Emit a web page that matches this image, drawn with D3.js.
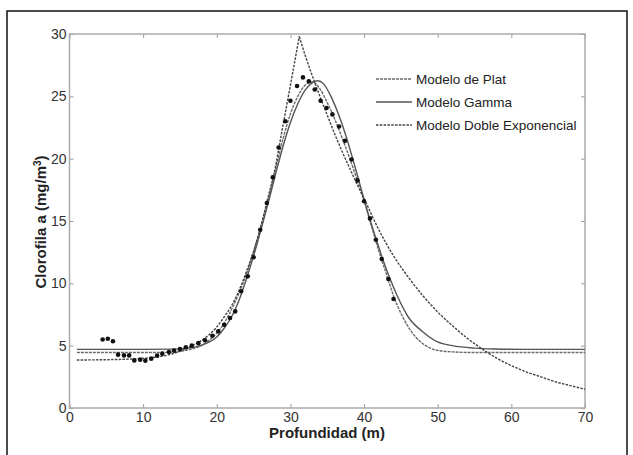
<!DOCTYPE html>
<html>
<head>
<meta charset="utf-8">
<script src="https://cdn.jsdelivr.net/npm/d3@7"></script>
<style>
  body { margin: 0; background: #fff; }
  svg { display: block; font-family: Arial, "Liberation Sans", sans-serif; }
  .tick text { fill: #333; font-size: 14px; }
  .eje path { display: none; }
  .eje line { stroke: #999; stroke-width: 1; }
  .titulo { font-weight: bold; font-size: 15px; fill: #222; }
  .leyenda { font-size: 13.5px; fill: #222; }
</style>
</head>
<body>
<script>
// ejes
const xTicks = [0, 10, 20, 30, 40, 50, 60, 70];
const yTicks = [0, 5, 10, 15, 20, 25, 30];

// datos medidos (profundidad m, clorofila mg/m3)
const profDatos = [4.5, 5.2, 5.9, 6.6, 7.4, 8.1, 8.8, 9.6, 10.3, 11.1, 11.9, 12.6, 13.5, 14.2, 15.0, 15.8, 16.6, 17.5, 18.4, 19.4, 20.2, 21.0, 21.8, 22.5, 23.3, 24.2, 25.0, 25.9, 26.8, 27.6, 28.4, 29.3, 30.0, 30.9, 31.7, 32.5, 33.3, 34.1, 34.9, 35.7, 36.6, 37.4, 38.3, 39.1, 40.0, 40.8, 41.6, 42.4, 43.3, 44.0];
const cloroDatos = [5.5, 5.56, 5.35, 4.28, 4.22, 4.22, 3.82, 3.88, 3.8, 3.96, 4.2, 4.36, 4.49, 4.6, 4.73, 4.87, 5.0, 5.2, 5.43, 5.8, 6.15, 6.68, 7.22, 7.75, 9.36, 10.56, 12.09, 14.3, 16.44, 18.5, 20.9, 23.0, 24.65, 25.83, 26.52, 26.2, 25.55, 24.65, 24.07, 23.55, 22.58, 21.43, 19.93, 18.26, 16.58, 15.21, 13.5, 11.95, 10.35, 8.74];

// Modelo de Plat
const platProf = [1, 12, 14, 16, 18, 19, 20, 21, 22, 23, 24, 25, 26, 27, 28, 29, 30, 31, 32, 33, 34, 35, 36, 37, 38, 39, 40, 41, 42, 43, 44, 45, 46, 47, 48, 49, 50, 52, 55, 70];
const platVal = [4.45, 4.45, 4.5, 4.65, 5.05, 5.45, 6.0, 6.8, 7.9, 9.2, 10.7, 12.5, 14.6, 16.8, 19.2, 21.6, 23.6, 25.0, 25.9, 26.15, 25.6, 24.5, 23.2, 21.7, 20.1, 18.4, 16.6, 14.6, 12.6, 10.8, 9.0, 7.6, 6.5, 5.7, 5.15, 4.8, 4.62, 4.5, 4.45, 4.45];

// Modelo Gamma
const gammaProf = [1, 10, 14, 16, 18, 19, 20, 21, 22, 23, 24, 25, 26, 27, 28, 29, 30, 31, 32, 33, 33.7, 34.5, 35.5, 36.5, 37.5, 38.5, 39.5, 40.5, 41.5, 42.5, 43.5, 44.5, 46, 48, 50, 52, 55, 58, 62, 70];
const gammaVal = [4.7, 4.7, 4.72, 4.8, 5.05, 5.3, 5.7, 6.4, 7.3, 8.6, 10.3, 12.2, 14.3, 16.5, 18.8, 21.0, 22.9, 24.4, 25.5, 26.1, 26.25, 26.0, 25.0, 23.6, 21.9, 19.9, 17.8, 15.7, 13.8, 12.0, 10.4, 9.0, 7.3, 6.1, 5.3, 5.0, 4.8, 4.73, 4.7, 4.7];

// Modelo Doble Exponencial
const dobleProf = [1, 7, 10, 12, 13, 14, 15, 16, 17, 18, 19, 20, 21, 22, 23, 24, 25, 26, 27, 27.7, 29, 30, 31.2, 32, 33, 34, 35, 36, 37, 38, 39, 40, 42, 44, 46, 48, 50, 52, 54, 56, 58, 60, 62, 64, 66, 68, 70];
const dobleVal = [3.85, 3.9, 3.98, 4.1, 4.2, 4.35, 4.55, 4.8, 5.1, 5.45, 5.9, 6.5, 7.3, 8.2, 9.4, 10.9, 12.6, 14.6, 17.0, 18.6, 22.7, 25.9, 29.8, 28.3, 26.6, 25.0, 23.5, 22.0, 20.6, 19.3, 18.0, 16.8, 14.3, 12.2, 10.5, 9.0, 7.7, 6.6, 5.6, 4.75, 4.0, 3.4, 2.9, 2.5, 2.1, 1.8, 1.5];

const seriesLeyenda = ["Modelo de Plat", "Modelo Gamma", "Modelo Doble Exponencial"];

const W = 633, H = 455;
const svg = d3.select("body").append("svg").attr("width", W).attr("height", H);

// marco exterior
svg.append("rect").attr("x", 7).attr("y", 11).attr("width", 620).attr("height", 460)
    .attr("fill", "none").attr("stroke", "#111").attr("stroke-width", 1.5);

const x = d3.scaleLinear().domain([0, 70]).range([69.5, 585]);
const y = d3.scaleLinear().domain([0, 30]).range([408, 34]);

// ejes con marcas hacia dentro (estilo matlab)
svg.append("g").attr("class", "eje").attr("transform", "translate(0,408)")
    .call(d3.axisBottom(x).tickValues(xTicks).tickSizeInner(-4).tickSizeOuter(0).tickPadding(4));
svg.append("g").attr("class", "eje").attr("transform", "translate(0,34)")
    .call(d3.axisTop(x).tickValues(xTicks).tickSizeInner(-4).tickSizeOuter(0).tickFormat(""));
svg.append("g").attr("class", "eje").attr("transform", "translate(69.5,0)")
    .call(d3.axisLeft(y).tickValues(yTicks).tickSizeInner(-4).tickSizeOuter(0).tickPadding(3));
svg.append("g").attr("class", "eje").attr("transform", "translate(585,0)")
    .call(d3.axisRight(y).tickValues(yTicks).tickSizeInner(-4).tickSizeOuter(0).tickFormat(""));

// caja
svg.append("rect").attr("x", x(0)).attr("y", y(30))
    .attr("width", x(70) - x(0)).attr("height", y(0) - y(30))
    .attr("fill", "none").attr("stroke", "#aaa").attr("stroke-width", 1.5);

const linea = d3.line().x(d => x(d[0])).y(d => y(d[1])).curve(d3.curveMonotoneX);
const pares = (a, b) => a.map((v, i) => [v, b[i]]);

const estilos = [
    {dash: "3,1", color: "#6a6a6a"},
    {dash: null, color: "#555"},
    {dash: "2.5,1.3", color: "#444"}
];

// curvas
svg.append("path").datum(pares(platProf, platVal)).attr("d", linea)
    .attr("fill", "none").attr("stroke", estilos[0].color).attr("stroke-width", 1.4)
    .attr("stroke-dasharray", estilos[0].dash);
svg.append("path").datum(pares(gammaProf, gammaVal)).attr("d", linea)
    .attr("fill", "none").attr("stroke", estilos[1].color).attr("stroke-width", 1.4);

// doble exponencial: dos tramos para que el pico quede en punta
const iPico = dobleVal.indexOf(d3.max(dobleVal));
const doble = pares(dobleProf, dobleVal);
[doble.slice(0, iPico + 1), doble.slice(iPico)].forEach(tramo => {
    svg.append("path").datum(tramo).attr("d", linea)
        .attr("fill", "none").attr("stroke", estilos[2].color).attr("stroke-width", 1.4)
        .attr("stroke-dasharray", estilos[2].dash);
});

// puntos medidos
svg.selectAll(".punto").data(pares(profDatos, cloroDatos)).enter().append("circle")
    .attr("class", "punto")
    .attr("cx", d => x(d[0])).attr("cy", d => y(d[1])).attr("r", 2.3)
    .attr("fill", "#111");

// leyenda
const ley = svg.append("g").attr("transform", "translate(376,79)");
seriesLeyenda.forEach((nombre, i) => {
    const g = ley.append("g").attr("transform", "translate(0," + (i * 23) + ")");
    g.append("line").attr("x1", 0).attr("x2", 36).attr("y1", 0).attr("y2", 0)
        .attr("stroke", estilos[i].color).attr("stroke-width", 1.4)
        .attr("stroke-dasharray", estilos[i].dash);
    g.append("text").attr("class", "leyenda").attr("x", 40).attr("dy", "0.35em").text(nombre);
});

// titulos de ejes
svg.append("text").attr("class", "titulo").attr("x", 327).attr("y", 438)
    .attr("text-anchor", "middle").text("Profundidad (m)");
svg.append("text").attr("class", "titulo").attr("transform", "translate(46,222) rotate(-90)")
    .attr("text-anchor", "middle")
    .text("Clorofila a (mg/m")
    .append("tspan").attr("dy", -5).attr("font-size", 10).text("3")
    .select(function() { return this.parentNode; })
    .append("tspan").attr("dy", 5).text(")");
</script>
</body>
</html>
